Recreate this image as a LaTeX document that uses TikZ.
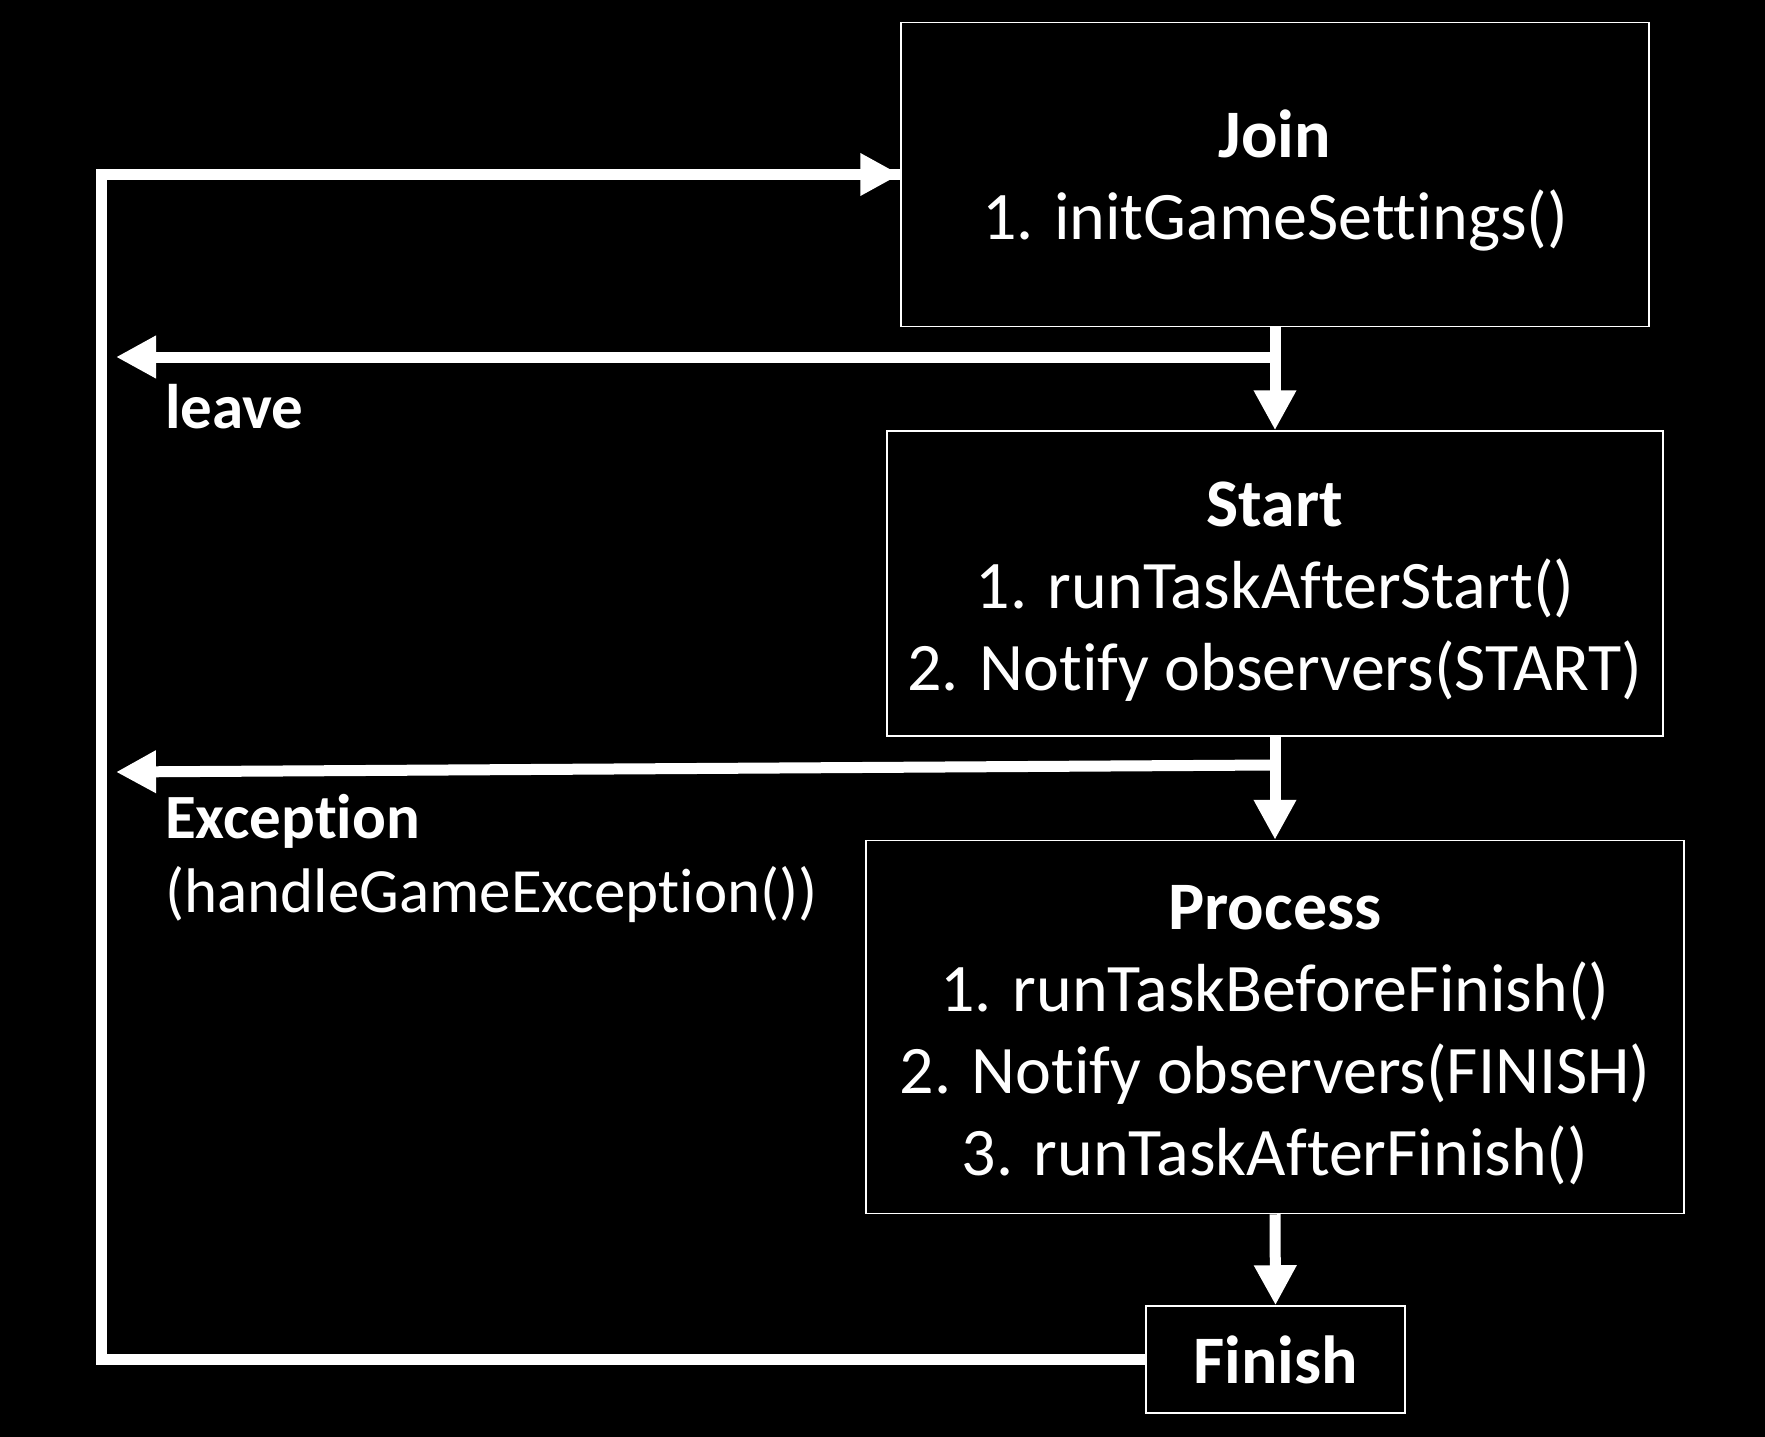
\documentclass[tikz,border=0pt]{standalone}
\usepackage{fontspec}
\setmainfont{Carlito}[Ligatures=CommonOff]
\usetikzlibrary{arrows.meta}

\newcommand{\titlestrut}{\rule{0pt}{60pt}}
\tikzset{
  stage/.style={draw=white,line width=1.5pt,text=white,align=center,inner sep=0pt,
    font=\fontsize{68}{82}\selectfont},
  flow/.style={draw=white,line width=11pt,-{Triangle[width=40pt,length=40pt]}},
  loopline/.style={draw=white,line width=11pt},
  tag/.style={text=white,inner sep=0pt,font=\fontsize{63}{76}\selectfont}
}

\begin{document}
\begin{tikzpicture}[x=1pt,y=-1pt]
  \fill[black] (0,0) rectangle (1765,1437);
  % stages
  \node[stage,minimum width=748pt,minimum height=304pt] (join) at (1275,174.5)
    {\titlestrut\textbf{Join}\\1. initGameSettings()};
  \node[stage,minimum width=776pt,minimum height=305pt] (start) at (1275,583.5)
    {\titlestrut\textbf{Start}\\1. runTaskAfterStart()\\2. Notify observers(START)};
  \node[stage,minimum width=818pt,minimum height=373pt] (process) at (1275,1027)
    {\titlestrut\textbf{Process}\\1. runTaskBeforeFinish()\\2. Notify observers(FINISH)\\3. runTaskAfterFinish()};
  \node[stage,minimum width=259pt,minimum height=107pt] (finish) at (1275.5,1359.5)
    {\textbf{Finish}};
  % branches
  \coordinate (leaveFork) at (1275,357);
  \coordinate (leaveEnd) at (116,357);
  \coordinate (excFork) at (1275,765);
  \coordinate (excEnd) at (116,772);
  \draw[flow] (leaveFork) -- (leaveEnd);
  \draw[flow] (excFork) -- (excEnd);
  \node[tag,anchor=base west] (leaveLbl) at (165,428) {\textbf{leave}};
  \node[tag,anchor=base west] (excLbl) at (165,838) {\textbf{Exception}};
  \node[tag,anchor=base west] (excCall) at (165,912) {(handleGameException())};
  % main flow
  \draw[flow] (join.south) -- (start.north);
  \draw[flow] (start.south) -- (process.north);
  \draw[flow] (process.south) -- (finish.north);
  % back to join
  \coordinate (loopBot) at (101,1359.5);
  \coordinate (loopTop) at (101,174.5);
  \draw[loopline] (finish.west) -- (loopBot) -- (loopTop) -- (loopTop -| join.west);
  \draw[flow] (loopTop) -- (join.west);
\end{tikzpicture}
\end{document}
